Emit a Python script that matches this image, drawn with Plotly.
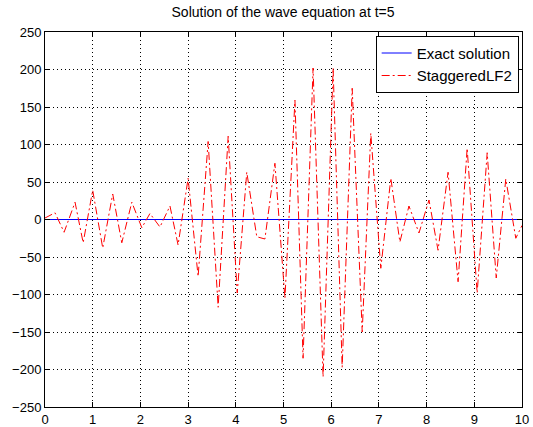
import plotly.graph_objects as go

x_exact = [0, 10]
y_exact = [0, 0]

x_num = [0.0, 0.21, 0.40, 0.63, 0.80, 1.00, 1.21, 1.42, 1.61, 1.82, 2.03, 2.20, 2.41, 2.62,
         2.79, 3.00, 3.21, 3.42, 3.63, 3.84, 4.03, 4.23, 4.44, 4.61, 4.82, 5.03, 5.24,
         5.41, 5.62, 5.83, 6.04, 6.23, 6.44, 6.65, 6.83, 7.04, 7.25, 7.44, 7.63, 7.84,
         8.05, 8.24, 8.45, 8.66, 8.85, 9.06, 9.27, 9.46, 9.66, 9.87, 10.0]
y_num = [2, 9, -17, 23, -31, 39, -38, 34, -31, 23, -11, 8, -10, 18,
         -34, 55, -76, 104, -117, 111, -98, 63, -23, -26, 75, -105, 159,
         -185, 202, -210, 202, -197, 175, -150, 115, -65, 55, -30, 18, -18,
         26, -41, 63, -83, 95, -98, 89, -78, 54, -25, -8]

fig = go.Figure()
fig.add_trace(go.Scatter(x=x_exact, y=y_exact, mode="lines", name="Exact solution",
                         line=dict(color="#0000ff", width=1)))
fig.add_trace(go.Scatter(x=x_num, y=y_num, mode="lines", name="StaggeredLF2",
                         line=dict(color="#ff0000", width=1, dash="8px,3px,2px,3px")))

axis_common = dict(showline=True, linecolor="black", linewidth=1, mirror="ticks",
                   ticks="inside", ticklen=5, tickcolor="black", automargin=False,
                   showgrid=True, gridcolor="black", griddash="1px,3px", gridwidth=1,
                   zeroline=False, tickfont=dict(size=13, color="black"))

fig.update_xaxes(range=[0, 10], dtick=1, **axis_common)
fig.update_yaxes(range=[-250, 250], dtick=50, **axis_common)

fig.update_layout(
    width=533, height=427,
    margin=dict(l=45, r=11, t=32, b=20),
    paper_bgcolor="white", plot_bgcolor="white",
    font=dict(family="Liberation Sans, Arial, sans-serif", size=12, color="black"),
    title=dict(text="Solution of the wave equation at t=5", x=0.531, xanchor="center",
               y=0.972, yanchor="middle", font=dict(size=14, color="black")),
    legend=dict(x=0.993, y=0.99, xanchor="right", yanchor="top",
                bgcolor="white", bordercolor="black", borderwidth=1,
                font=dict(size=15, color="black"), tracegroupgap=0),
    showlegend=True,
)

fig.write_html("out.html")
